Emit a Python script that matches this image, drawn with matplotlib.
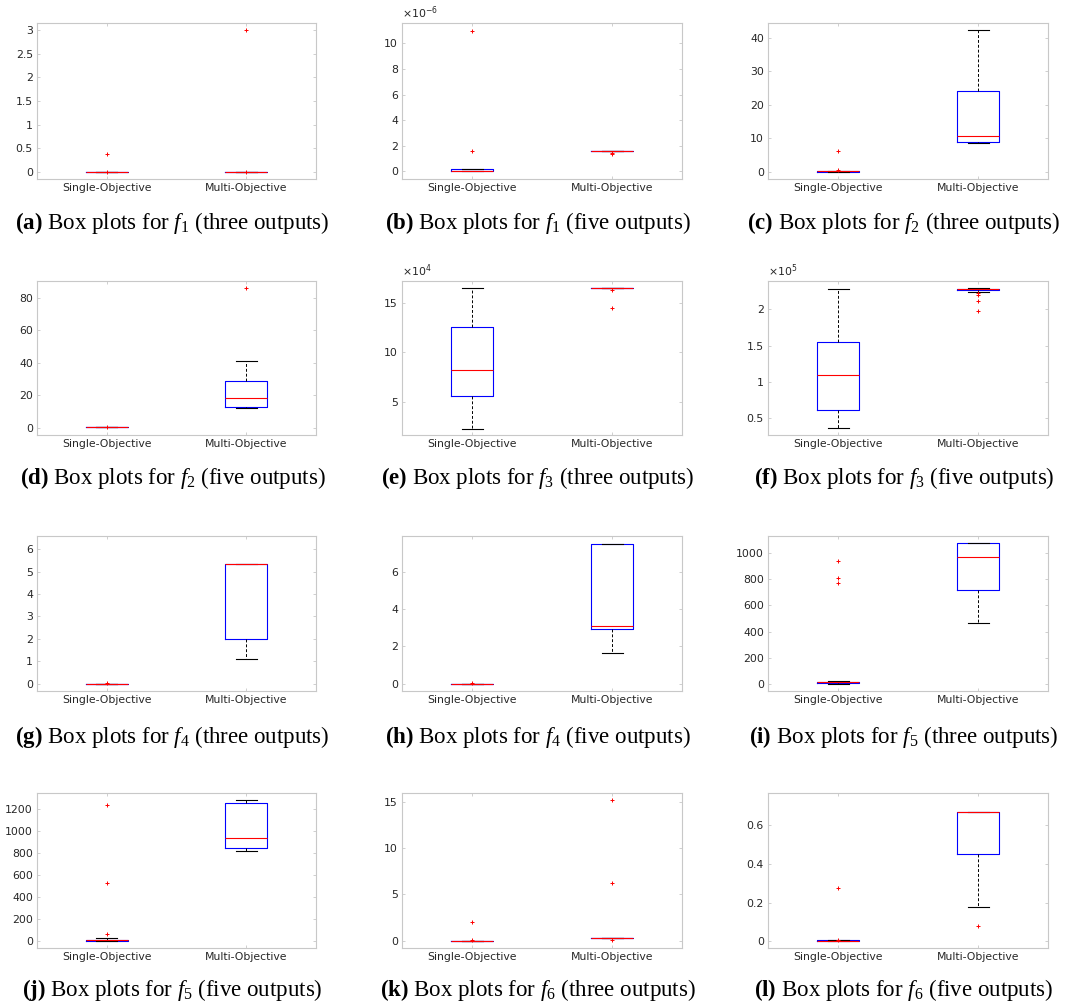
import matplotlib
matplotlib.use('Agg')
import matplotlib.pyplot as plt
from matplotlib.ticker import MultipleLocator, FuncFormatter

plt.rcParams['mathtext.fontset'] = 'custom'
plt.rcParams['mathtext.rm'] = 'Liberation Serif'
plt.rcParams['mathtext.it'] = 'Liberation Serif:italic'
plt.rcParams['mathtext.bf'] = 'Liberation Serif:bold'

labels = ['Single-Objective', 'Multi-Objective']

# box stats per panel: (whislo, q1, med, q3, whishi) for single, multi
a_stats = [(0, 0, 0, 0, 0), (0, 0, 0, 0, 0)]
a_fliers = [[0.37, 0.0], [3.0, 0.0]]
b_stats = [(0, 0, 0, 0.15e-6, 0.19e-6), (1.59e-6, 1.59e-6, 1.59e-6, 1.59e-6, 1.59e-6)]
b_fliers = [[1.6e-6, 11.0e-6], [1.43e-6, 1.33e-6]]
c_stats = [(0, 0, 0.2, 0.3, 0.3), (8.56, 8.86, 10.65, 24.2, 42.3)]
c_fliers = [[6.2, 0.5], []]
d_stats = [(0.3, 0.3, 0.3, 0.3, 0.3), (12.0, 12.65, 18.4, 28.8, 41.0)]
d_fliers = [[0.3], [86.1]]
e_stats = [(2.26e4, 5.58e4, 8.22e4, 12.57e4, 16.47e4), (16.5e4, 16.5e4, 16.5e4, 16.5e4, 16.5e4)]
e_fliers = [[], [16.3e4, 14.45e4]]
f_stats = [(0.365e5, 0.616e5, 1.099e5, 1.545e5, 2.283e5), (2.232e5, 2.265e5, 2.275e5, 2.285e5, 2.29e5)]
f_fliers = [[], [2.218e5, 2.195e5, 2.121e5, 1.977e5]]
g_stats = [(0, 0, 0, 0, 0), (1.08, 1.99, 5.32, 5.32, 5.32)]
g_fliers = [[0.04], []]
h_stats = [(0, 0, 0, 0, 0), (1.65, 2.92, 3.06, 7.49, 7.49)]
h_fliers = [[0.02], []]
i_stats = [(0, 5, 10, 15, 18), (465, 719, 969, 1077, 1077)]
i_fliers = [[938, 808, 775], []]
j_stats = [(0, 0, 8, 12, 27), (815, 845, 936, 1255, 1282)]
j_fliers = [[60, 524, 1236], []]
k_stats = [(0, 0, 0, 0, 0), (0.29, 0.29, 0.29, 0.29, 0.29)]
k_fliers = [[2.02, 0.05], [0.11, 6.22, 15.25]]
l_stats = [(0.0, 0.0, 0.002, 0.004, 0.004), (0.175, 0.45, 0.672, 0.672, 0.672)]
l_fliers = [[0.273, 0.008], [0.076]]

letters = ['a', 'b', 'c', 'd', 'e', 'f', 'g', 'h', 'i', 'j', 'k', 'l']
func_idx = ['1', '1', '2', '2', '3', '3', '4', '4', '5', '5', '6', '6']
outputs = ['three', 'five'] * 6

all_stats = [a_stats, b_stats, c_stats, d_stats, e_stats, f_stats,
             g_stats, h_stats, i_stats, j_stats, k_stats, l_stats]
all_fliers = [a_fliers, b_fliers, c_fliers, d_fliers, e_fliers, f_fliers,
              g_fliers, h_fliers, i_fliers, j_fliers, k_fliers, l_fliers]

ylims = [(-0.15, 3.15), (-0.6e-6, 11.6e-6), (-2.1, 44.4), (-4.5, 90.4),
         (1.61e4, 17.23e4), (0.268e5, 2.39e5), (-0.33, 6.59), (-0.39, 7.9),
         (-56, 1133), (-64, 1345), (-0.8, 16.0), (-0.036, 0.768)]
ysteps = [0.5, 2e-6, 10, 20, 5e4, 0.5e5, 1, 2, 200, 200, 5, 0.2]
scales = [0, -6, 0, 0, 4, 5, 0, 0, 0, 0, 0, 0]

W, H = 1065, 1008
col_x = [(37, 316), (402, 682), (768, 1048)]
row_y = [(23, 179), (281, 435), (536, 691), (793, 948)]
cap_y = [223, 478, 737, 990]

fig = plt.figure(figsize=(W / 100, H / 100), dpi=100)

for n in range(12):
    r, c = divmod(n, 3)
    x0, x1 = col_x[c]
    y0, y1 = row_y[r]
    ax = fig.add_axes([x0 / W, 1 - y1 / H, (x1 - x0) / W, (y1 - y0) / H])
    bstats = []
    for (lo, q1, med, q3, hi), fl, lab in zip(all_stats[n], all_fliers[n], labels):
        bstats.append(dict(whislo=lo, q1=q1, med=med, q3=q3, whishi=hi,
                           fliers=fl, label=lab))
    ax.bxp(bstats, positions=[1, 2], widths=0.3,
           boxprops=dict(color='#0000ff', linewidth=0.8),
           medianprops=dict(color='#ff0000', linewidth=0.8),
           whiskerprops=dict(color='black', linewidth=0.7, linestyle=(0, (3, 2))),
           capprops=dict(color='black', linewidth=0.8),
           flierprops=dict(marker='+', color='#ff0000', markeredgecolor='#ff0000',
                           markersize=3, markeredgewidth=0.7))
    ax.set_xlim(0.5, 2.5)
    ax.set_ylim(*ylims[n])
    ax.yaxis.set_major_locator(MultipleLocator(ysteps[n]))
    sc = 10.0 ** scales[n]
    ax.yaxis.set_major_formatter(FuncFormatter(lambda v, p, sc=sc: '%g' % round(v / sc, 6)))
    if scales[n] != 0:
        ax.text(0.0, 1.015, r'$\times10^{%d}$' % scales[n], transform=ax.transAxes,
                fontsize=7.8, color='#262626', ha='left', va='bottom',
                math_fontfamily='dejavusans')
    ax.tick_params(direction='in', length=2.5, width=0.6, color='#c8c8c8',
                   labelcolor='#262626', labelsize=7.8, right=True, top=True, pad=3)
    for s in ax.spines.values():
        s.set_color('#c8c8c8')
        s.set_linewidth(0.8)
    cx = (x0 + x1) / 2 - 4
    fig.text(cx / W, 1 - cap_y[r] / H,
             r'$\mathbf{(%s)}$ Box plots for $f_{%s}$ (%s outputs)' % (letters[n], func_idx[n], outputs[n]),
             family='Liberation Serif', fontsize=16.5, ha='center', va='center', color='black')

fig.savefig('out.png', dpi=100)
